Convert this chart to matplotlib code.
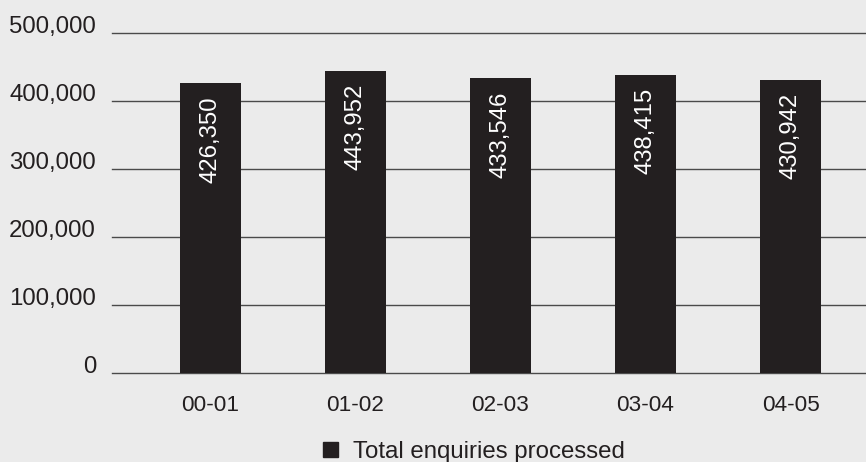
import matplotlib
matplotlib.use("Agg")
import matplotlib.pyplot as plt
from matplotlib.patches import Patch

categories = ["00-01", "01-02", "02-03", "03-04", "04-05"]
values = [426350, 443952, 433546, 438415, 430942]
yticks = [0, 100000, 200000, 300000, 400000, 500000]
ytick_labels = ["0", "100,000", "200,000", "300,000", "400,000", "500,000"]
series_name = "Total enquiries processed"

BG = "#EBEBEB"
BAR = "#231F20"
GRID = "#4a4a4a"
TXT = "#231F20"

plt.rcParams['font.family'] = ['Liberation Sans', 'DejaVu Sans']

fig = plt.figure(figsize=(8.66, 4.62), dpi=100, facecolor=BG)
ax = fig.add_axes([112/866, (462-373)/462, 1 - 112/866, (373-33)/462])
ax.set_facecolor(BG)

x = list(range(len(categories)))
bars = ax.bar(x, values, width=0.42, color=BAR, zorder=3)

ax.set_ylim(0, 500000)
ax.set_xlim(-0.679, 4.52)
ax.set_yticks(yticks)
ax.set_yticklabels(ytick_labels, fontsize=17.3, color=TXT)
for lab in ax.get_yticklabels():
    lab.set_verticalalignment('baseline')
ax.set_xticks(x)
ax.set_xticklabels(categories, fontsize=16.2, color=TXT)
ax.tick_params(axis='both', length=0)
ax.tick_params(axis='y', pad=11.5)
ax.tick_params(axis='x', pad=15.5)
ax.grid(axis='y', color=GRID, linewidth=1.0, zorder=1)
for gl in ax.get_ygridlines():
    gl.set_clip_on(False)
for s in ax.spines.values():
    s.set_visible(False)

for xi, v in zip(x, values):
    ax.annotate(f"{v:,}", xy=(xi, v), xytext=(0, -13), textcoords='offset pixels',
                rotation=90, ha='center', va='top', color='white', fontsize=17.2, zorder=4)

handle = Patch(facecolor=BAR, edgecolor=BAR)
fig.legend([handle], [series_name], loc='center', bbox_to_anchor=(474/866, 1 - 452/462),
           frameon=False, fontsize=17.3, handlelength=0.62, handleheight=0.62,
           handletextpad=0.6, labelcolor=TXT)

fig.savefig("out.png", dpi=100, facecolor=BG)
